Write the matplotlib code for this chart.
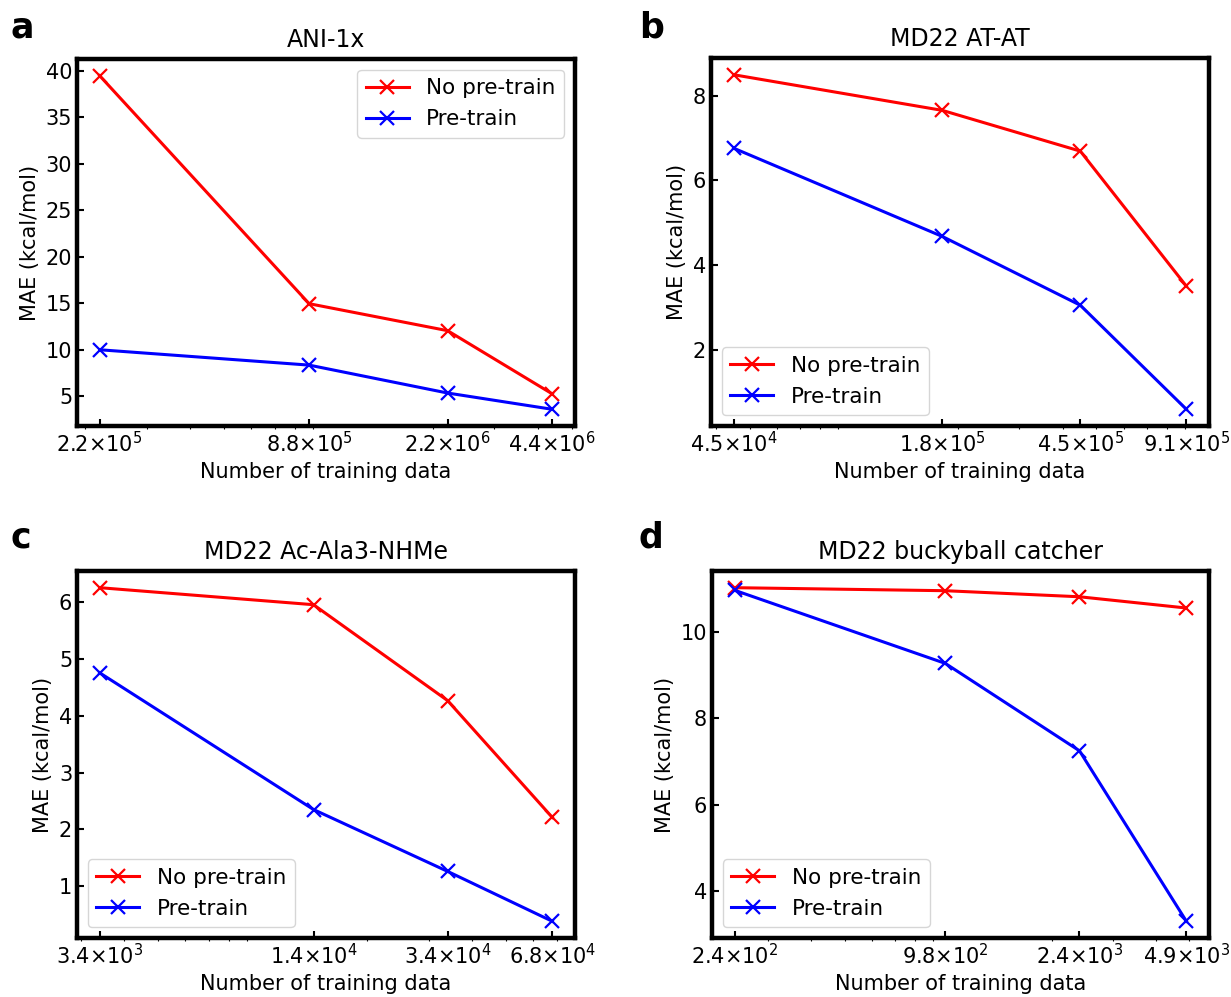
import numpy as np
import matplotlib
matplotlib.use('Agg')
import matplotlib.pyplot as plt
from matplotlib.ticker import NullFormatter

# values
titles = ['ANI-1x', 'MD22 AT-AT', 'MD22 Ac-Ala3-NHMe', 'MD22 buckyball catcher']
letters = ['a', 'b', 'c', 'd']

n_ani = [2.2e5, 8.8e5, 2.2e6, 4.4e6]
n_atat = [4.5e4, 1.8e5, 4.5e5, 9.1e5]
n_ala = [3.4e3, 1.4e4, 3.4e4, 6.8e4]
n_bucky = [2.4e2, 9.8e2, 2.4e3, 4.9e3]

lab_ani = [r'$2.2{\times}10^{5}$', r'$8.8{\times}10^{5}$', r'$2.2{\times}10^{6}$', r'$4.4{\times}10^{6}$']
lab_atat = [r'$4.5{\times}10^{4}$', r'$1.8{\times}10^{5}$', r'$4.5{\times}10^{5}$', r'$9.1{\times}10^{5}$']
lab_ala = [r'$3.4{\times}10^{3}$', r'$1.4{\times}10^{4}$', r'$3.4{\times}10^{4}$', r'$6.8{\times}10^{4}$']
lab_bucky = [r'$2.4{\times}10^{2}$', r'$9.8{\times}10^{2}$', r'$2.4{\times}10^{3}$', r'$4.9{\times}10^{3}$']

yt_ani = [5, 10, 15, 20, 25, 30, 35, 40]
yt_atat = [2, 4, 6, 8]
yt_ala = [1, 2, 3, 4, 5, 6]
yt_bucky = [4, 6, 8, 10]

nopre_ani = [39.45, 14.95, 12.05, 5.25]
pre_ani = [10.0, 8.35, 5.35, 3.6]
nopre_atat = [8.49, 7.65, 6.69, 3.51]
pre_atat = [6.76, 4.68, 3.06, 0.61]
nopre_ala = [6.26, 5.96, 4.27, 2.21]
pre_ala = [4.76, 2.35, 1.26, 0.38]
nopre_bucky = [11.02, 10.95, 10.81, 10.55]
pre_bucky = [10.96, 9.27, 7.25, 3.31]

xs = [n_ani, n_atat, n_ala, n_bucky]
xlabs = [lab_ani, lab_atat, lab_ala, lab_bucky]
yts = [yt_ani, yt_atat, yt_ala, yt_bucky]
nopre = [nopre_ani, nopre_atat, nopre_ala, nopre_bucky]
pre = [pre_ani, pre_atat, pre_ala, pre_bucky]
legend_loc = ['upper right', 'lower left', 'lower left', 'lower left']

W, H = 1231, 997
fig = plt.figure(figsize=(W / 100, H / 100), dpi=100)

# axes boxes in pixels: left, top, right, bottom
boxes = [(77, 59, 575, 426), (711, 58, 1209, 426),
         (77, 571, 575, 938), (712, 571, 1209, 938)]
letter_pos = [(11, 38), (639, 38), (11, 548), (639, 548)]

for i in range(4):
    l, t, r, b = boxes[i]
    ax = fig.add_axes([l / W, 1 - b / H, (r - l) / W, (b - t) / H])
    ax.plot(xs[i], nopre[i], color='red', marker='x', lw=2.2, ms=10, mew=1.6, label='No pre-train')
    ax.plot(xs[i], pre[i], color='blue', marker='x', lw=2.2, ms=10, mew=1.6, label='Pre-train')
    ax.set_xscale('log')
    ax.set_xticks(xs[i])
    ax.set_xticklabels(xlabs[i])
    ax.set_yticks(yts[i])
    ax.xaxis.set_minor_formatter(NullFormatter())
    ax.tick_params(which='major', direction='in', length=5, width=1.5, labelsize=15)
    ax.tick_params(which='minor', direction='out', length=2.5, width=0.8)
    for s in ax.spines.values():
        s.set_linewidth(3.2)
    ax.set_title(titles[i], fontsize=17, pad=9)
    ax.set_xlabel('Number of training data', fontsize=15)
    ax.set_ylabel('MAE (kcal/mol)', fontsize=15)
    ax.legend(loc=legend_loc[i], fontsize=15.5)
    fig.text(letter_pos[i][0] / W, 1 - letter_pos[i][1] / H, letters[i],
             fontsize=25, fontweight='bold')

plt.savefig('out.png', dpi=100)
